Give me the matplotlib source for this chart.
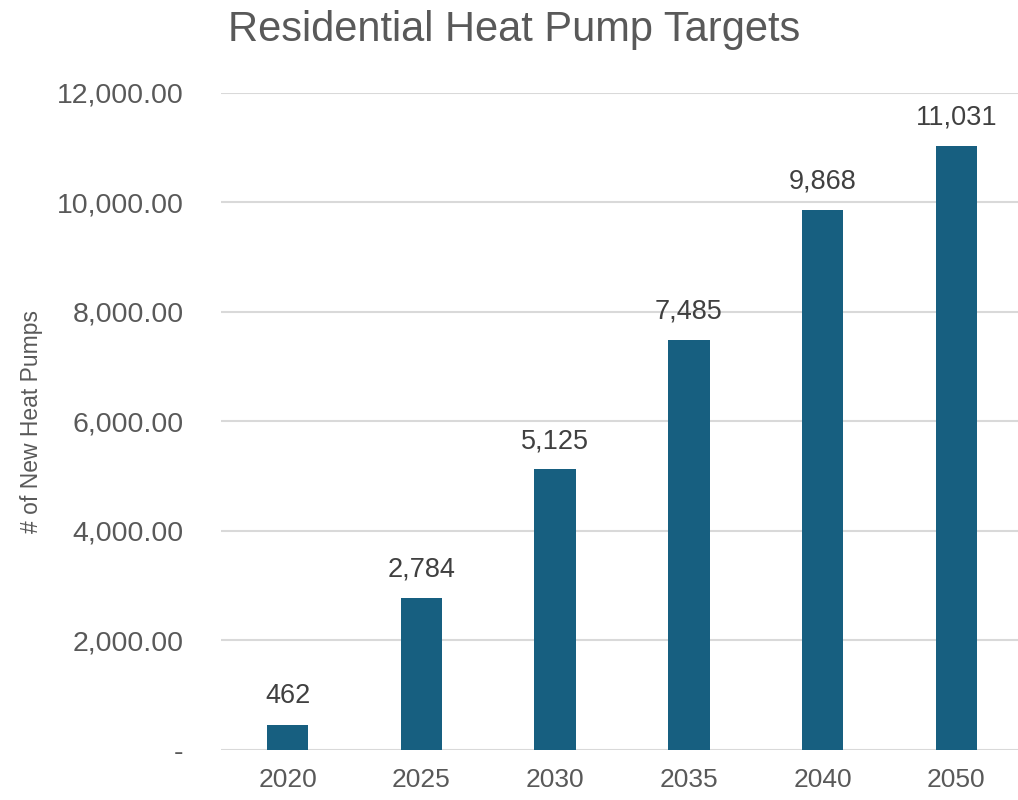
import matplotlib.pyplot as plt
from matplotlib.ticker import FuncFormatter

years = ["2020", "2025", "2030", "2035", "2040", "2050"]
pumps = [462, 2784, 5125, 7485, 9868, 11031]
y_ticks = [0, 2000, 4000, 6000, 8000, 10000, 12000]

plt.rcParams['font.family'] = ['Liberation Sans', 'DejaVu Sans']

fig = plt.figure(figsize=(10.18, 8), dpi=100)
ax = fig.add_axes([0.217, 0.0625, 0.788, 0.8215])

x = list(range(len(years)))
ax.bar(x, pumps, width=0.31, color="#175F80", zorder=3)

for xi, v in zip(x, pumps):
    ax.annotate(f"{v:,}", (xi, v), textcoords="offset points", xytext=(0, 11),
                ha='center', va='bottom', fontsize=19.5, color='#404040')

ax.set_xlim(-0.5, len(years) - 0.5)
ax.set_ylim(0, 12000)
ax.set_yticks(y_ticks)
ax.yaxis.set_major_formatter(FuncFormatter(lambda v, p: "-" if v == 0 else f"{v:,.2f}"))
ax.set_xticks(x)
ax.set_xticklabels(years)
ax.tick_params(axis='both', length=0, labelcolor='#595959')
ax.tick_params(axis='y', pad=27, labelsize=20.5)
ax.tick_params(axis='x', pad=13, labelsize=19)

ax.grid(axis='y', color='#D9D9D9', linewidth=1.5, zorder=0)
for s in ax.spines.values():
    s.set_visible(False)

ax.set_ylabel("# of New Heat Pumps", fontsize=16.5, color='#595959', labelpad=10)
fig.text(0.505, 0.962, "Residential Heat Pump Targets", ha='center', va='center',
         fontsize=30, color='#595959')

plt.savefig("out.png", dpi=100)
